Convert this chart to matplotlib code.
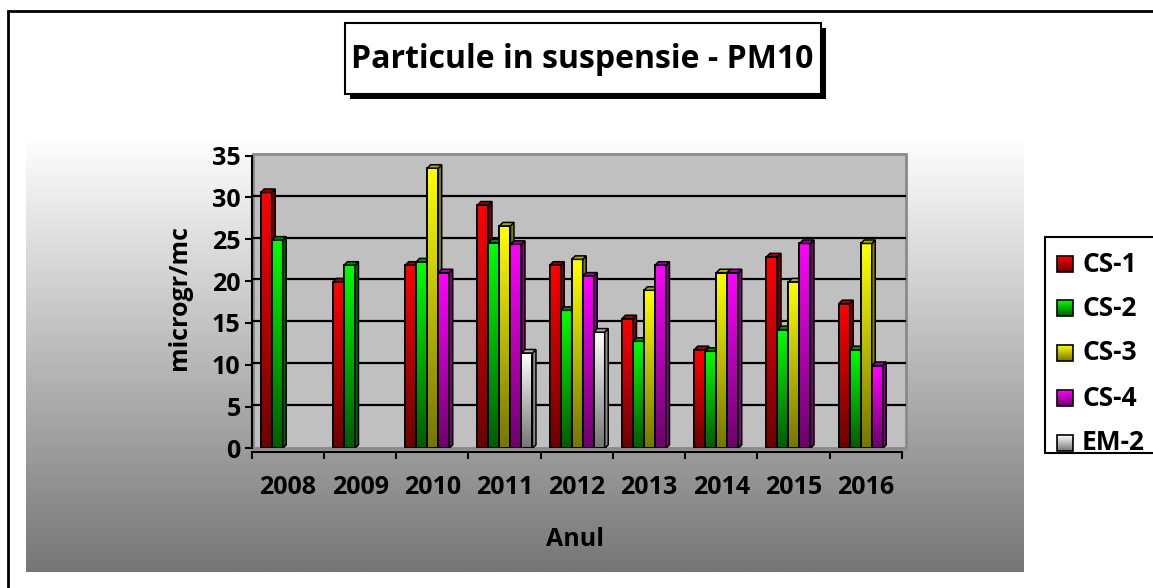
"""
PM10 suspended particles per year, 3D-look grouped bars.
"""

import numpy as np
import matplotlib
matplotlib.use("Agg")
import matplotlib.pyplot as plt
from matplotlib.patches import Rectangle, Polygon
from matplotlib.colors import to_rgb

nan = np.nan

years = ['2008', '2009', '2010', '2011', '2012', '2013', '2014', '2015', '2016']
series_names = ['CS-1', 'CS-2', 'CS-3', 'CS-4', 'EM-2']
cs1 = [30.6, 19.9, 21.9, 29.1, 21.9, 15.5, 11.8, 22.9, 17.3]
cs2 = [24.9, 21.9, 22.3, 24.6, 16.5, 12.8, 11.6, 14.2, 11.8]
cs3 = [nan, nan, 33.5, 26.6, 22.6, 18.9, 21.0, 19.9, 24.5]
cs4 = [nan, nan, 21.0, 24.4, 20.6, 21.9, 21.0, 24.5, 9.9]
em2 = [nan, nan, nan, 11.4, 13.9, nan, nan, nan, nan]
y_ticks = [0, 5, 10, 15, 20, 25, 30, 35]

# (top of gradient, bottom of gradient, side face, top face)
palette = [
    ('#ff0000', '#6e0000', '#800000', '#a00000'),
    ('#00ff00', '#005c00', '#006400', '#009000'),
    ('#ffff00', '#767600', '#808000', '#a8a800'),
    ('#ff00ff', '#6e006e', '#800080', '#a000a0'),
    ('#ffffff', '#767676', '#8c8c8c', '#b0b0b0'),
]

plt.rcParams['font.family'] = ['Open Sans', 'DejaVu Sans']
plt.rcParams['font.weight'] = 'bold'

W, H = 1153, 588
fig = plt.figure(figsize=(W / 100, H / 100), dpi=100)
fig.patch.set_facecolor('white')

# full-figure pixel canvas for the decorations
bg = fig.add_axes([0, 0, 1, 1])
bg.set_xlim(0, W)
bg.set_ylim(H, 0)
bg.axis('off')


def vgrad(c_top, c_bot, n=64):
    t = np.linspace(0, 1, n)[:, None]
    a, b = np.array(to_rgb(c_top)), np.array(to_rgb(c_bot))
    return (a * (1 - t) + b * t)[:, None, :]


# outer frame (top and left only are visible)
bg.plot([8, 8, W], [H, 11, 11], color='black', lw=2, solid_joinstyle='miter')

# gradient chart area
bg.imshow(vgrad('#ffffff', '#767676', 256), extent=(26, 1024, 572, 135),
          aspect='auto', interpolation='bilinear', zorder=1)

# back wall of the plot
bg.add_patch(Rectangle((253, 154), 653, 294, facecolor='#c0c0c0',
                       edgecolor='#8a8a8a', lw=2, zorder=2))

# title box with shadow
bg.add_patch(Rectangle((350, 28), 476, 71, facecolor='black', zorder=3))
bg.add_patch(Rectangle((345, 23), 476, 71, facecolor='white',
                       edgecolor='black', lw=1.5, zorder=4))
bg.text(582, 59, 'Particule in suspensie - PM10', ha='center', va='center',
        fontsize=23, fontweight='bold', zorder=5)

# legend
bg.add_patch(Rectangle((1045, 237), 110, 216, facecolor='white',
                       edgecolor='black', lw=1.5, zorder=3))
leg_y = [264, 308, 353, 398, 443]
for i, name in enumerate(series_names):
    top, bot, side, topf = palette[i]
    yc = leg_y[i]
    bg.imshow(vgrad(top, bot), extent=(1057, 1073, yc + 8, yc - 8),
              aspect='auto', zorder=4)
    bg.add_patch(Rectangle((1057, yc - 8), 16, 16, fill=False,
                           edgecolor='black', lw=1.2, zorder=5))
    bg.text(1082, yc, name, ha='left', va='center', fontsize=19,
            fontweight='bold', zorder=5)

# data axes
x0_px, x1_px = 251.7, 902
y0_px, y1_px = 448.3, 155.7
ax = fig.add_axes([x0_px / W, (H - y0_px) / H, (x1_px - x0_px) / W, (y0_px - y1_px) / H])
ax.set_facecolor('none')
ax.set_zorder(2)

cat_px = (x1_px - x0_px) / len(years)
unit_px = (y0_px - y1_px) / 35
slot = 11 / cat_px
start = 9 / cat_px
dx = 3.5 / cat_px
dy = 3.5 / unit_px

# gridlines on the back wall
for yv in y_ticks[1:-1]:
    ax.hlines(yv + 0.2, 0.02, 9.05, color='black', lw=1.6, zorder=1, clip_on=False)

series = [cs1, cs2, cs3, cs4, em2]
z = 10
for c in range(len(years)):
    for s, vals in enumerate(series):
        h = vals[c]
        if np.isnan(h):
            continue
        top, bot, side, topf = palette[s]
        xl = c + start + s * slot
        xr = xl + slot
        ax.imshow(vgrad(top, bot), extent=(xl, xr, 0, h), aspect='auto',
                  interpolation='bilinear', zorder=z)
        ax.add_patch(Rectangle((xl, 0), slot, h, fill=False, edgecolor='black',
                               lw=1.4, zorder=z + 0.1))
        ax.add_patch(Polygon([(xr, 0), (xr + dx, dy), (xr + dx, h + dy), (xr, h)],
                             facecolor=side, edgecolor='black', lw=1.1, zorder=z + 0.2))
        ax.add_patch(Polygon([(xl, h), (xl + dx, h + dy), (xr + dx, h + dy), (xr, h)],
                             facecolor=topf, edgecolor='black', lw=1.1, zorder=z + 0.2))
        z += 1

ax.set_xlim(0, len(years))
ax.set_ylim(0, 35)

for side_name in ['top', 'right']:
    ax.spines[side_name].set_visible(False)
ax.spines['left'].set_linewidth(1.5)
ax.spines['bottom'].set_linewidth(1.5)
ax.spines['bottom'].set_position(('outward', 3))

ax.set_yticks(y_ticks)
ax.set_yticklabels([str(v) for v in y_ticks])
ax.tick_params(axis='y', direction='out', length=5, width=1.5, pad=3,
               labelsize=18)

ax.set_xticks(np.arange(len(years) + 1))
ax.set_xticklabels([])
ax.set_xticks(np.arange(len(years)) + 0.5, minor=True)
ax.set_xticklabels(years, minor=True)
ax.tick_params(axis='x', which='major', direction='out', length=5, width=1.5)
ax.tick_params(axis='x', which='minor', length=0, pad=16, labelsize=18)

for lbl in ax.get_xticklabels(minor=True) + ax.get_yticklabels():
    lbl.set_fontweight('bold')

ax.set_ylabel('microgr/mc', fontsize=18, fontweight='bold')
ax.yaxis.set_label_coords((179 - x0_px) / (x1_px - x0_px), (y0_px - 298) / (y0_px - y1_px))
ax.set_xlabel('Anul', fontsize=18, fontweight='bold')
ax.xaxis.set_label_coords((575 - x0_px) / (x1_px - x0_px), -(540 - y0_px) / (y0_px - y1_px))
ax.xaxis.label.set_va('center')
ax.yaxis.label.set_va('center')

fig.savefig('out.png', dpi=100)
